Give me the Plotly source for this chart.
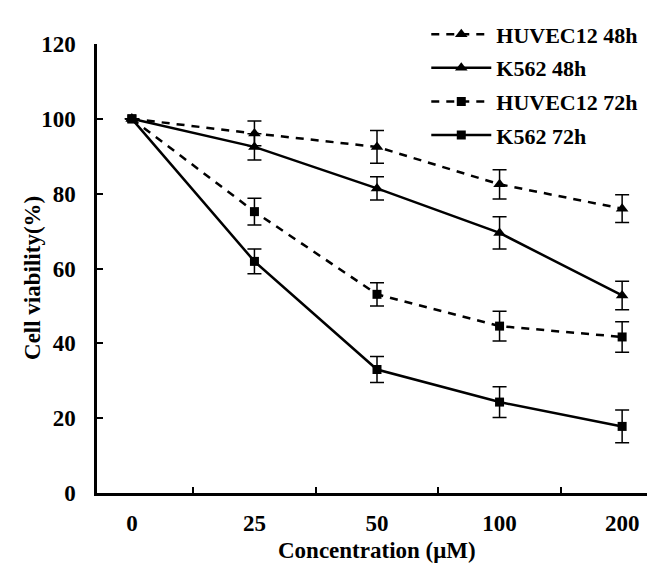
import plotly.graph_objects as go

concentrations = ["0", "25", "50", "100", "200"]

huvec_48h = [100, 96.1, 92.5, 82.5, 76.0]
huvec_48h_err = [0, 3.3, 4.4, 3.9, 3.7]
k562_48h = [100, 92.5, 81.4, 69.5, 52.8]
k562_48h_err = [0, 3.5, 3.1, 4.3, 3.8]
huvec_72h = [100, 75.2, 53.1, 44.6, 41.7]
huvec_72h_err = [0, 3.6, 3.1, 4.0, 4.1]
k562_72h = [100, 61.9, 33.0, 24.3, 17.8]
k562_72h_err = [0, 3.3, 3.5, 4.1, 4.4]

FONT = "Liberation Serif"

series = [
    ("HUVEC12 48h", huvec_48h, huvec_48h_err, "8px,7px", "triangle-up", 11),
    ("K562 48h", k562_48h, k562_48h_err, "solid", "triangle-up", 11),
    ("HUVEC12 72h", huvec_72h, huvec_72h_err, "8px,7px", "square", 9),
    ("K562 72h", k562_72h, k562_72h_err, "solid", "square", 9),
]

fig = go.Figure()
for name, vals, errs, dash, symbol, size in series:
    fig.add_trace(go.Scatter(
        x=concentrations,
        y=vals,
        name=name,
        legendgroup=name,
        mode="lines+markers",
        line=dict(color="black", width=2.5, dash=dash),
        marker=dict(symbol=symbol, size=size, color="black"),
        error_y=dict(type="data", array=errs, visible=True,
                     color="black", thickness=1.5, width=7),
    ))

axis_font = dict(family=FONT, size=23, color="black", weight="bold")

fig.update_xaxes(
    type="category",
    tickson="boundaries",
    ticks="inside",
    ticklen=6,
    tickwidth=2,
    tickcolor="black",
    showline=True,
    linecolor="black",
    linewidth=2.5,
    showgrid=False,
    zeroline=False,
    tickfont=axis_font,
    ticklabelstandoff=8,
)
fig.update_yaxes(
    range=[0, 120],
    dtick=20,
    ticks="inside",
    ticklen=6,
    tickwidth=2,
    tickcolor="black",
    showline=True,
    linecolor="black",
    linewidth=2.5,
    showgrid=False,
    zeroline=False,
    tickfont=axis_font,
    ticklabelstandoff=14,
)

fig.add_annotation(
    text="Concentration (μM)", xref="paper", yref="paper",
    x=0.5, y=-0.128, xanchor="center", yanchor="middle", showarrow=False,
    font=dict(family=FONT, size=23, color="black", weight="bold"),
)
fig.add_annotation(
    text="Cell viability(%)", xref="paper", yref="paper",
    x=-0.115, y=0.478, xanchor="center", yanchor="middle", showarrow=False,
    textangle=-90,
    font=dict(family=FONT, size=23, color="black", weight="bold"),
)

fig.update_layout(
    width=655,
    height=565,
    margin=dict(l=89, r=6, t=33, b=80),
    plot_bgcolor="white",
    paper_bgcolor="white",
    showlegend=True,
    legend=dict(
        x=0.588, y=1.068, xanchor="left", yanchor="top",
        font=dict(family=FONT, size=22, color="black", weight="bold"),
        bgcolor="rgba(0,0,0,0)",
        itemwidth=60,
        tracegroupgap=2,
        traceorder="grouped",
    ),
)

fig.write_html("out.html")
